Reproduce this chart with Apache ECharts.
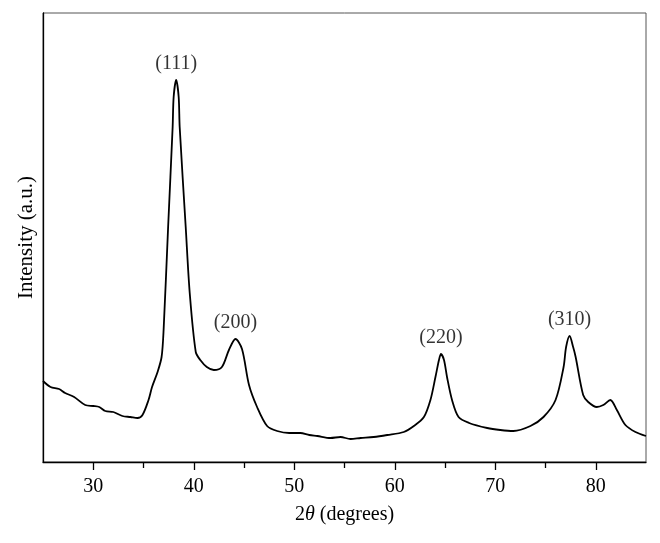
<!DOCTYPE html>
<html>
<head>
<meta charset="utf-8">
<script src="https://cdn.jsdelivr.net/npm/echarts@6/dist/echarts.min.js"></script>
<style>
  html, body { margin: 0; padding: 0; background: #fff; }
  #chart { width: 660px; height: 543px; }
</style>
</head>
<body>
<div id="chart"></div>
<script>
const twoTheta = [25.0, 25.75, 26.6, 27.2, 28.1, 29.2, 30.0, 30.6, 31.2, 32.0, 32.9, 33.7, 34.4, 34.9, 35.5, 35.85, 36.4, 36.8, 37.0, 37.45, 37.9, 38.0, 38.25, 38.5, 38.6, 39.2, 39.6, 40.2, 40.65, 41.3, 42.0, 42.8, 43.5, 44.15, 44.8, 45.5, 46.3, 47.3, 48.3, 49.5, 50.6, 51.5, 52.3, 53.6, 54.6, 55.6, 56.6, 57.9, 59.25, 60.9, 61.9, 62.9, 63.55, 64.05, 64.4, 64.6, 64.9, 65.2, 65.7, 66.35, 67.4, 69.2, 70.5, 71.8, 73.5, 74.8, 76.0, 76.8, 77.05, 77.4, 77.75, 78.0, 78.75, 79.25, 80.1, 80.75, 81.45, 82.1, 82.95, 83.95, 85.0]
const intensity = [81, 75, 73, 69, 65, 57, 56, 55, 51, 50, 46, 45, 44, 47, 62, 75, 90, 105, 132, 235, 335, 365, 382, 365, 335, 235, 169, 110, 102, 95, 92, 95, 112, 123, 113, 77, 55, 36, 31, 29, 29, 27, 26, 24, 25, 23, 24, 25, 27, 30, 36, 45, 62, 85, 102, 108, 102, 85, 62, 45, 39, 34, 32, 31, 36, 45, 62, 95, 115, 126, 115, 105, 67, 60, 55, 57, 62, 52, 37, 30, 26]

// peak annotations
const peakNames = ['(111)', '(200)', '(220)', '(310)']
const peakX = [38.25, 44.15, 64.6, 77.4]
const peakY = [382, 123, 108, 126]

// x axis ticks
const majorTicks = [30, 40, 50, 60, 70, 80]
const minorTicks = [35, 45, 55, 65, 75]

const font = '"Liberation Serif", "DejaVu Serif", serif'

const chart = echarts.init(document.getElementById('chart'))
const option = {
  animation: false,
  grid: {
    left: 43,
    right: 14,
    top: 13,
    bottom: 81,
    show: true,
    borderColor: '#555',
    borderWidth: 1
  },
  xAxis: [
    {
      type: 'value',
      min: 25,
      max: 85,
      interval: 5,
      splitLine: { show: false },
      axisLine: { show: true, onZero: false, lineStyle: { color: '#000', width: 1.3 } },
      axisTick: { show: true, customValues: majorTicks, length: 8, lineStyle: { color: '#000', width: 1.3 } },
      axisLabel: { customValues: majorTicks, margin: 15, color: '#000', fontSize: 20, fontFamily: font },
      name: '{a|2}{i|θ}{a| (degrees)}',
      nameLocation: 'middle',
      nameGap: 43,
      nameTextStyle: {
        rich: {
          a: { fontSize: 20, fontFamily: font, color: '#000' },
          i: { fontSize: 20, fontFamily: font, fontStyle: 'italic', color: '#000' }
        }
      }
    },
    {
      type: 'value',
      position: 'bottom',
      min: 25,
      max: 85,
      interval: 5,
      splitLine: { show: false },
      axisLine: { show: false },
      axisTick: { show: true, customValues: minorTicks, length: 6, lineStyle: { color: '#000', width: 1.3 } },
      axisLabel: { show: false }
    }
  ],
  yAxis: {
    type: 'value',
    min: 0,
    max: 449,
    splitLine: { show: false },
    axisLine: { show: true, lineStyle: { color: '#000', width: 1.3 } },
    axisTick: { show: false },
    axisLabel: { show: false },
    name: 'Intensity (a.u.)',
    nameLocation: 'middle',
    nameGap: 6,
    nameTextStyle: { color: '#000', fontSize: 21, fontFamily: font }
  },
  series: [
    {
      type: 'line',
      data: twoTheta.map((x, i) => [x, intensity[i]]),
      smooth: 0.3,
      symbol: 'none',
      lineStyle: { color: '#000', width: 1.8 }
    },
    {
      type: 'scatter',
      symbolSize: 0,
      data: peakX.map((x, i) => [x, peakY[i], peakNames[i]]),
      label: {
        show: true,
        position: 'top',
        distance: 6,
        formatter: p => p.value[2],
        color: '#000',
        fontSize: 20,
        fontFamily: font
      }
    }
  ]
}
chart.setOption(option)
</script>
</body>
</html>
